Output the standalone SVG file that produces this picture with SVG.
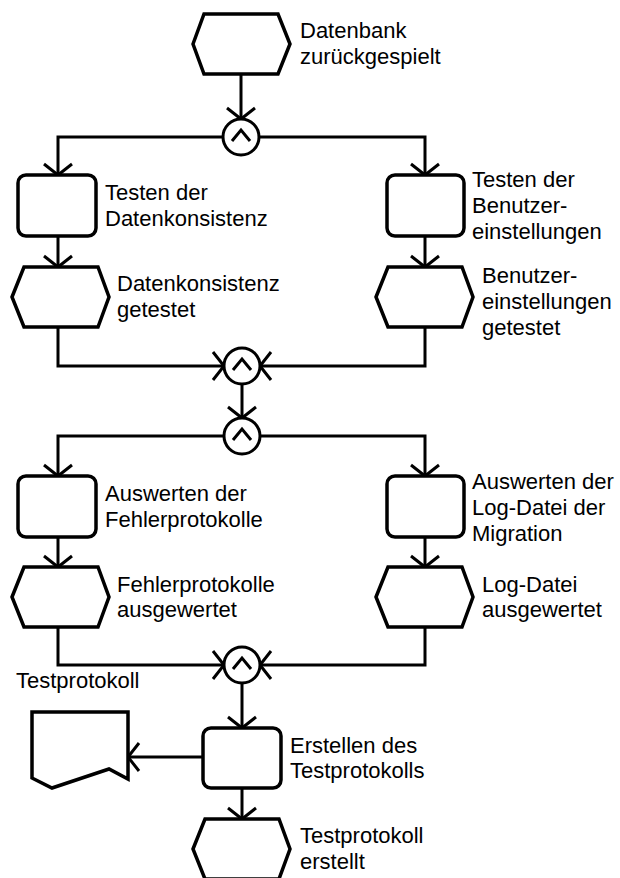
<svg xmlns="http://www.w3.org/2000/svg" width="620" height="878" viewBox="0 0 620 878">
<defs>
<style>
.sh{fill:#fff;stroke:#000;stroke-width:3.5;stroke-linejoin:miter}
.ln{fill:none;stroke:#000;stroke-width:3}
.ci{fill:#fff;stroke:#000;stroke-width:3}
.an{fill:none;stroke:#000;stroke-width:3;stroke-linejoin:miter}
text{font-family:"Liberation Sans",Arial,sans-serif;font-size:22px;fill:#000}
</style>
<marker id="ah" markerUnits="userSpaceOnUse" markerWidth="30" markerHeight="34" viewBox="-13 -17 15 34" refX="0" refY="0" orient="auto">
<path d="M-11,-14 L0,0 L-11,14" fill="none" stroke="#000" stroke-width="3"/>
</marker>
</defs>
<rect width="620" height="878" fill="#fff"/>

<g id="connectors">
<path class="ln" d="M241,74 V119" marker-end="url(#ah)"/>
<path class="ln" d="M223,137 H58 V175" marker-end="url(#ah)"/>
<path class="ln" d="M259,137 H425 V175" marker-end="url(#ah)"/>
<path class="ln" d="M58,236 V267" marker-end="url(#ah)"/>
<path class="ln" d="M425,236 V267" marker-end="url(#ah)"/>
<path class="ln" d="M58,327 V366 H224" marker-end="url(#ah)"/>
<path class="ln" d="M425,327 V366 H260" marker-end="url(#ah)"/>
<path class="ln" d="M242,384 V418" marker-end="url(#ah)"/>
<path class="ln" d="M224,436 H58 V476" marker-end="url(#ah)"/>
<path class="ln" d="M260,436 H425 V476" marker-end="url(#ah)"/>
<path class="ln" d="M58,537 V567" marker-end="url(#ah)"/>
<path class="ln" d="M425,537 V567" marker-end="url(#ah)"/>
<path class="ln" d="M58,627 V665 H224" marker-end="url(#ah)"/>
<path class="ln" d="M425,627 V665 H260" marker-end="url(#ah)"/>
<path class="ln" d="M242,683 V728" marker-end="url(#ah)"/>
<path class="ln" d="M203,757 H128" marker-end="url(#ah)"/>
<path class="ln" d="M242,788 V819" marker-end="url(#ah)"/>
</g>

<g id="ev-start">
<polygon class="sh" points="193,44 204,14 278,14 290,44 278,74 204,74"/>
<text x="300" y="38">Datenbank</text>
<text x="300" y="63.5">zurückgespielt</text>
</g>

<g id="and-split-1">
<circle class="ci" cx="241" cy="137" r="18"/>
<path class="an" d="M232,141 L241,130 L250,141"/>
</g>

<g id="task-konsistenz">
<rect class="sh" x="18" y="175" width="78" height="61" rx="8"/>
<text x="105" y="200">Testen der</text>
<text x="105" y="225.5">Datenkonsistenz</text>
</g>

<g id="task-benutzer">
<rect class="sh" x="387" y="175" width="77" height="61" rx="8"/>
<text x="472" y="187">Testen der</text>
<text x="472" y="213">Benutzer-</text>
<text x="472" y="239">einstellungen</text>
</g>

<g id="ev-konsistenz">
<polygon class="sh" points="12,297 24,267 98,267 109,297 98,327 24,327"/>
<text x="117" y="291">Datenkonsistenz</text>
<text x="117" y="316.5">getestet</text>
</g>

<g id="ev-benutzer">
<polygon class="sh" points="376,297 388,267 462,267 473,297 462,327 388,327"/>
<text x="482" y="283">Benutzer-</text>
<text x="482" y="309">einstellungen</text>
<text x="482" y="335">getestet</text>
</g>

<g id="and-join-1">
<circle class="ci" cx="242" cy="366" r="18"/>
<path class="an" d="M233,370 L242,359 L251,370"/>
</g>

<g id="and-split-2">
<circle class="ci" cx="242" cy="436" r="18"/>
<path class="an" d="M233,440 L242,429 L251,440"/>
</g>

<g id="task-fehler">
<rect class="sh" x="18" y="476" width="78" height="61" rx="8"/>
<text x="105" y="501">Auswerten der</text>
<text x="105" y="526.5">Fehlerprotokolle</text>
</g>

<g id="task-log">
<rect class="sh" x="387" y="476" width="77" height="61" rx="8"/>
<text x="472" y="488.5">Auswerten der</text>
<text x="472" y="514.5">Log-Datei der</text>
<text x="472" y="540.5">Migration</text>
</g>

<g id="ev-fehler">
<polygon class="sh" points="12,597 24,567 98,567 109,597 98,627 24,627"/>
<text x="117" y="591.5">Fehlerprotokolle</text>
<text x="117" y="617">ausgewertet</text>
</g>

<g id="ev-log">
<polygon class="sh" points="376,597 388,567 462,567 473,597 462,627 388,627"/>
<text x="482" y="591.5">Log-Datei</text>
<text x="482" y="617">ausgewertet</text>
</g>

<g id="and-join-2">
<circle class="ci" cx="242" cy="665" r="18"/>
<path class="an" d="M233,669 L242,658 L251,669"/>
</g>

<g id="doc-testprotokoll">
<path class="sh" d="M32,712 H128 V779 L109,769 L52,788 L32,778 Z"/>
<text x="16" y="688">Testprotokoll</text>
</g>

<g id="task-erstellen">
<rect class="sh" x="203" y="728" width="78" height="60" rx="8"/>
<text x="290" y="752.5">Erstellen des</text>
<text x="290" y="778">Testprotokolls</text>
</g>

<g id="ev-end">
<polygon class="sh" points="193,849 205,819 279,819 290,849 279,879 205,879"/>
<text x="300" y="843">Testprotokoll</text>
<text x="300" y="868.5">erstellt</text>
</g>
</svg>
